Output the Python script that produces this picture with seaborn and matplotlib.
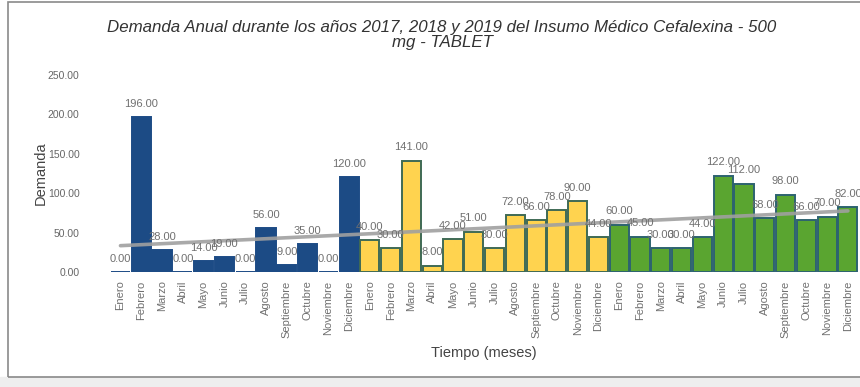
import matplotlib
matplotlib.use('Agg')
import matplotlib.pyplot as plt
import seaborn as sns
import pandas as pd
from matplotlib.patches import Rectangle

meses = ['Enero', 'Febrero', 'Marzo', 'Abril', 'Mayo', 'Junio', 'Julio',
         'Agosto', 'Septiembre', 'Octubre', 'Noviembre', 'Diciembre']
anios = ['2017', '2018', '2019']

demanda_2017 = [0, 196, 28, 0, 14, 19, 0, 56, 9, 35, 0, 120]
demanda_2018 = [40, 30, 141, 8, 42, 51, 30, 72, 66, 78, 90, 44]
demanda_2019 = [60, 45, 30, 30, 44, 122, 112, 68, 98, 66, 70, 82]

colores = {'2017': '#1c4b85', '2018': '#ffd34f', '2019': '#5aa530'}
bordes = {'2017': '#1c4b85', '2018': '#3f6a55', '2019': '#2d6370'}

df = pd.DataFrame({
    'pos': range(36),
    'mes': meses * 3,
    'anio': [a for a in anios for _ in meses],
    'demanda': demanda_2017 + demanda_2018 + demanda_2019,
})

sns.set_style('white')
plt.rcParams['font.family'] = ['Liberation Sans', 'DejaVu Sans']

fig = plt.figure(figsize=(8.6, 3.87), dpi=100)
fig.patches.append(Rectangle((0, 0), 1, 10 / 387, transform=fig.transFigure,
                             color='#eeeeee', zorder=-2))
fig.patches.append(Rectangle((8 / 860, 10 / 387), 1.0, 375 / 387,
                             transform=fig.transFigure, fill=False,
                             ec='#8a8a8a', lw=1.2, zorder=-1))
ax = fig.add_axes([0.128, 0.297, 0.87, 0.51])

sns.barplot(data=df, x='pos', y='demanda', hue='anio', palette=colores,
            dodge=False, width=0.92, saturation=1, legend=False, ax=ax)

for p in ax.patches:
    i = int(round(p.get_x() + p.get_width() / 2))
    p.set_edgecolor(bordes[df.anio[i]])
    p.set_linewidth(1.4)

# etiquetas de valor sobre cada barra
for c in ax.containers:
    ax.bar_label(c, fmt='%.2f', padding=6, fontsize=8, color='#707070')

# linea de tendencia
sns.regplot(data=df, x='pos', y='demanda', scatter=False, ci=None,
            color='#a0a0a0', line_kws=dict(lw=2.6, alpha=0.9), ax=ax)

ax.set_xlim(-0.5, 35.5)
ax.set_ylim(0, 250)
ax.set_yticks([0, 50, 100, 150, 200, 250])
ax.set_yticklabels(['%.2f' % v for v in [0, 50, 100, 150, 200, 250]],
                   fontsize=7.5, color='#666666')
ax.set_xticks(range(36))
ax.set_xticklabels(df.mes, rotation=90, fontsize=8, color='#707070')
ax.tick_params(axis='y', length=0, pad=22)
ax.tick_params(axis='x', length=0, pad=6)
sns.despine(ax=ax, left=True, bottom=True)

ax.set_ylabel('Demanda', fontsize=10.5, color='#444444', labelpad=0)
ax.set_xlabel('Tiempo (meses)', fontsize=10.5, color='#444444', labelpad=6)
fig.text(0.514, 0.91,
         'Demanda Anual durante los años 2017, 2018 y 2019 del Insumo Médico Cefalexina - 500\nmg - TABLET',
         ha='center', va='center', fontsize=12.2, style='italic', color='#333333',
         linespacing=1.0)

fig.savefig('out.png', dpi=100)
